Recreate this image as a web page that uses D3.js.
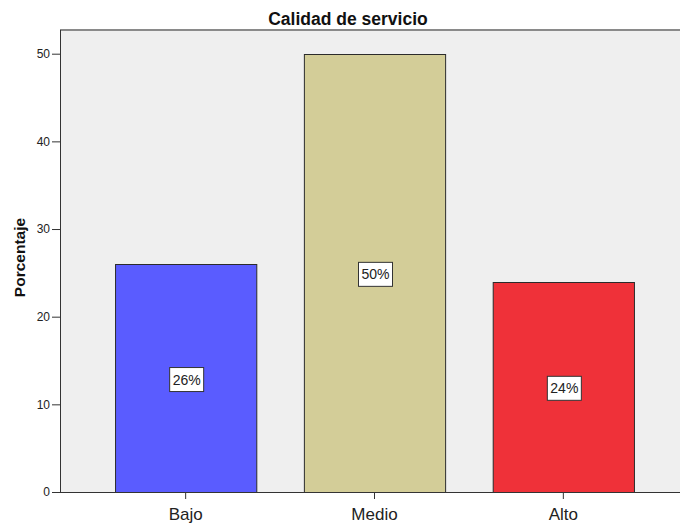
<!DOCTYPE html>
<html><head><meta charset="utf-8">
<script src="https://cdn.jsdelivr.net/npm/d3@7"></script>
<style>body{margin:0;background:#fff}svg{display:block}text{font-family:"Liberation Sans",Arial,sans-serif}</style>
</head><body>
<script>
const categories = ["Bajo", "Medio", "Alto"];
const values = [26, 50, 24];
const labels = ["26%", "50%", "24%"];
const colors = ["#5a5cff", "#d3cd98", "#ef3139"];
const yTicks = [0, 10, 20, 30, 40, 50];

const W = 680, H = 524;
const pLeft = 60, pTop = 30, pBottom = 492, pRight = 690;
const svg = d3.select("body").append("svg").attr("width", W).attr("height", H);

const x = d3.scaleBand().domain(categories).range([91.25, 657.75]).paddingInner(0.252).paddingOuter(0.126);
const y = d3.scaleLinear().domain([0, 50]).range([pBottom, 53.7]);

// plot background
svg.append("rect").attr("x", pLeft).attr("y", pTop).attr("width", pRight - pLeft).attr("height", pBottom - pTop).attr("fill", "#efefef");
// top border
svg.append("line").attr("x1", pLeft).attr("x2", pRight).attr("y1", pTop).attr("y2", pTop).attr("stroke", "#8a8a8a").attr("stroke-width", 2);

// bars
svg.selectAll("rect.bar").data(categories).enter().append("rect").attr("class", "bar")
  .attr("x", d => x(d) + 0.5).attr("width", x.bandwidth())
  .attr("y", (d, i) => Math.round(y(values[i])) + 0.5)
  .attr("height", (d, i) => pBottom - Math.round(y(values[i])))
  .attr("fill", (d, i) => colors[i]).attr("stroke", "#2b2b2b").attr("stroke-width", 1);

// y axis
const yAxis = d3.axisLeft(y).tickValues(yTicks).tickSize(8).tickPadding(2).tickFormat(d3.format("d"));
const gy = svg.append("g").attr("transform", `translate(${pLeft},0)`).call(yAxis);
gy.select(".domain").remove();
gy.selectAll(".tick line").attr("stroke", "#333");
gy.selectAll(".tick text").attr("font-size", 12).attr("fill", "#222").style("font-family", '"Liberation Sans",Arial,sans-serif');
svg.append("line").attr("x1", pLeft + 0.5).attr("x2", pLeft + 0.5).attr("y1", pTop).attr("y2", pBottom).attr("stroke", "#333");

// x axis
const xAxis = d3.axisBottom(x).tickSize(7).tickPadding(9);
const gx = svg.append("g").attr("transform", `translate(0,${pBottom})`).call(xAxis);
gx.select(".domain").remove();
gx.selectAll(".tick line").attr("stroke", "#333");
gx.selectAll(".tick text").attr("font-size", 17).attr("fill", "#222").style("font-family", '"Liberation Sans",Arial,sans-serif');
svg.append("line").attr("x1", pLeft).attr("x2", pRight).attr("y1", pBottom + 0.5).attr("y2", pBottom + 0.5).attr("stroke", "#333");

// value labels
const lg = svg.selectAll("g.lbl").data(categories).enter().append("g").attr("class", "lbl")
  .attr("transform", (d, i) => `translate(${x(d) + x.bandwidth() / 2 + 1},${y(values[i] / 2) + 1.5})`);
lg.append("rect").attr("x", -17).attr("y", -12).attr("width", 34).attr("height", 24)
  .attr("fill", "#fff").attr("stroke", "#333").attr("stroke-width", 1);
lg.append("text").attr("text-anchor", "middle").attr("dy", "0.36em").attr("font-size", 14).attr("fill", "#222")
  .text((d, i) => labels[i]);

// title
svg.append("text").attr("x", 348).attr("y", 24.5).attr("text-anchor", "middle")
  .attr("font-size", 17.5).attr("font-weight", "bold").attr("fill", "#111").text("Calidad de servicio");

// y axis title
svg.append("text").attr("transform", "translate(25,257.5) rotate(-90)").attr("text-anchor", "middle")
  .attr("font-size", 15.5).attr("font-weight", "bold").attr("fill", "#111").text("Porcentaje");
</script>
</body></html>
